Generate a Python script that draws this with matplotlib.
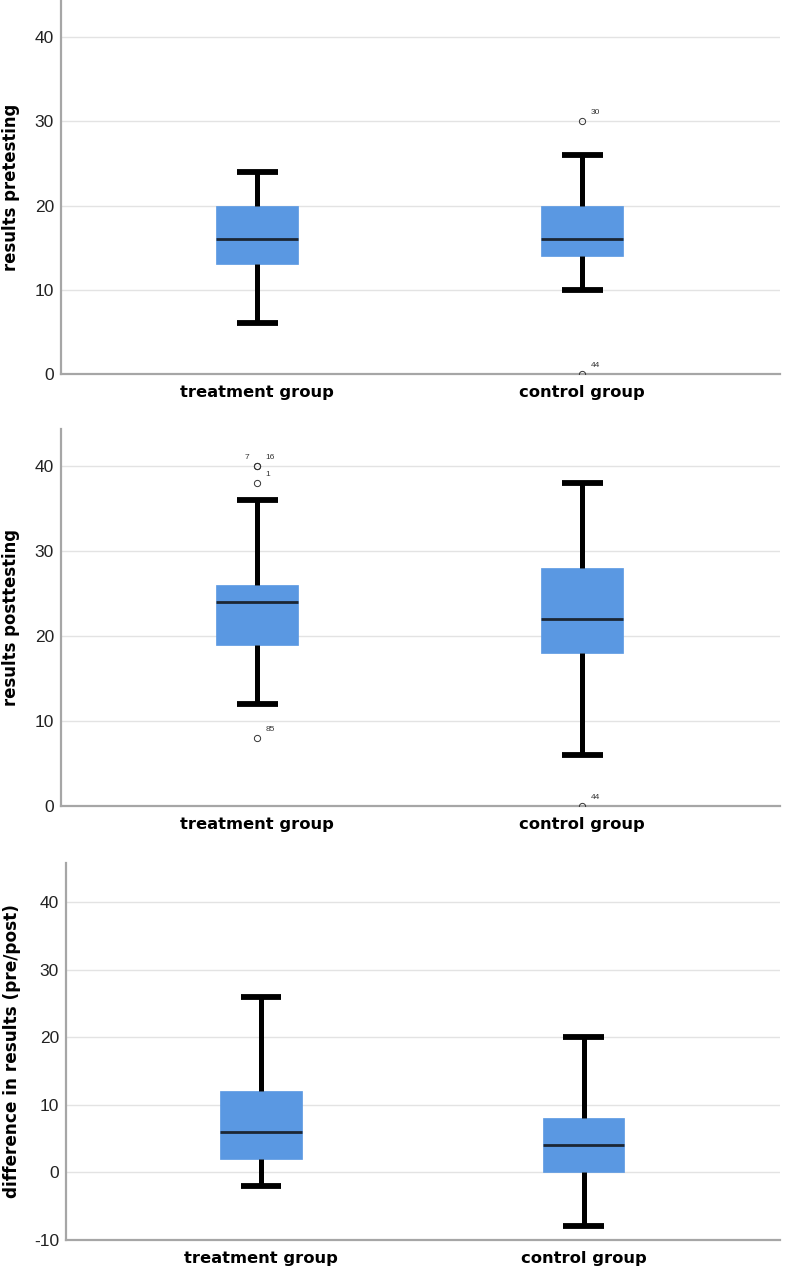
"""Three stacked SPSS-style boxplots: pretest, posttest and difference by group."""

import matplotlib
matplotlib.use("Agg")
import matplotlib.pyplot as plt

plt.rcParams["font.family"] = ["Liberation Sans", "DejaVu Sans"]
plt.rcParams["axes.unicode_minus"] = False

# ---------------------------------------------------------------------------
# data
# ---------------------------------------------------------------------------
groups = ["treatment group", "control group"]

pre_whislo = [6, 10]
pre_q1 = [13, 14]
pre_med = [16, 16]
pre_q3 = [20, 20]
pre_whishi = [24, 26]
pre_fliers = [[], [30, 0]]
pre_flier_ids = [[], ["30", "44"]]

post_whislo = [12, 6]
post_q1 = [19, 18]
post_med = [24, 22]
post_q3 = [26, 28]
post_whishi = [36, 38]
post_fliers = [[40, 40, 38, 8], [0]]
post_flier_ids = [["7", "16", "1", "85"], ["44"]]

diff_whislo = [-2, -8]
diff_q1 = [2, 0]
diff_med = [6, 4]
diff_q3 = [12, 8]
diff_whishi = [26, 20]
diff_fliers = [[], []]
diff_flier_ids = [[], []]

ylabels = ["results pretesting", "results posttesting",
           "difference in results (pre/post)"]

BOX_COLOR = "#5a98e2"
SPINE_COLOR = "#a6a6a6"
GRID_COLOR = "#e3e3e3"
LABEL_FONT = ["DejaVu Sans"]


def _stats(whislo, q1, med, q3, whishi, fliers):
    return [
        dict(whislo=whislo[i], q1=q1[i], med=med[i], q3=q3[i],
             whishi=whishi[i], fliers=fliers[i], label=groups[i])
        for i in range(len(groups))
    ]


def _panel(ax, stats, flier_ids, ylabel, ylim, label_x, ylabel_size):
    positions = list(range(1, len(groups) + 1))
    ax.bxp(
        stats, positions=positions, widths=0.252, patch_artist=True,
        showfliers=False, capwidths=0.126,
        boxprops=dict(facecolor=BOX_COLOR, edgecolor=BOX_COLOR, linewidth=0.5),
        medianprops=dict(color="#1c2633", linewidth=2.0, solid_capstyle="butt"),
        whiskerprops=dict(color="black", linewidth=3.6, solid_capstyle="butt"),
        capprops=dict(color="black", linewidth=4.2, solid_capstyle="butt"),
        zorder=3,
    )
    # outliers with case numbers
    for pos, st, ids in zip(positions, stats, flier_ids):
        seen = {}
        for val, cid in zip(st["fliers"], ids):
            ax.plot(pos, val, marker="o", markersize=4.5, markerfacecolor="none",
                    markeredgecolor="#333333", markeredgewidth=0.7,
                    linestyle="none", zorder=4)
            n = seen.get(val, 0)
            seen[val] = n + 1
            if n == 0 and st["fliers"].count(val) > 1:
                dx, ha = -0.025, "right"
            else:
                dx, ha = 0.025, "left"
            ax.text(pos + dx, val + 0.6, cid, fontsize=6, ha=ha, va="bottom",
                    color="#333333", zorder=5)

    ax.set_xlim(0.396, 2.608)
    ax.set_ylim(*ylim)
    ax.set_yticks([t for t in range(-10, 50, 10) if ylim[0] <= t <= ylim[1]])
    ax.yaxis.grid(True, color=GRID_COLOR, linewidth=1.0, zorder=0)
    ax.set_axisbelow(True)
    ax.set_xticks(positions)
    ax.set_xticklabels(groups, fontsize=11.8, fontweight="bold", family=LABEL_FONT)
    ax.tick_params(axis="x", length=0, pad=8)
    ax.tick_params(axis="y", length=0, pad=5, labelsize=12.5, labelcolor="#222222")
    for side in ("top", "right"):
        ax.spines[side].set_visible(False)
    for side in ("left", "bottom"):
        ax.spines[side].set_color(SPINE_COLOR)
        ax.spines[side].set_linewidth(1.6)
    ax.set_ylabel(ylabel, fontsize=ylabel_size, fontweight="bold", family=LABEL_FONT)
    ax.yaxis.set_label_coords(label_x, 0.5)


fig = plt.figure(figsize=(7.86, 12.70), dpi=100)

ax1 = fig.add_axes([61 / 786, 1 - 374 / 1270, 719 / 786, 374 / 1270])
_panel(ax1, _stats(pre_whislo, pre_q1, pre_med, pre_q3, pre_whishi, pre_fliers),
       pre_flier_ids, ylabels[0], (0, 44.4), -0.057, 11.9)

ax2 = fig.add_axes([61 / 786, 1 - 806 / 1270, 719 / 786, 377 / 1270])
_panel(ax2, _stats(post_whislo, post_q1, post_med, post_q3, post_whishi, post_fliers),
       post_flier_ids, ylabels[1], (0, 44.4), -0.057, 11.9)

ax3 = fig.add_axes([66 / 786, 1 - 1240 / 1270, 714 / 786, 377 / 1270])
_panel(ax3, _stats(diff_whislo, diff_q1, diff_med, diff_q3, diff_whishi, diff_fliers),
       diff_flier_ids, ylabels[2], (-10, 45.85), -0.063, 12.2)

fig.savefig("out.png", dpi=100)
